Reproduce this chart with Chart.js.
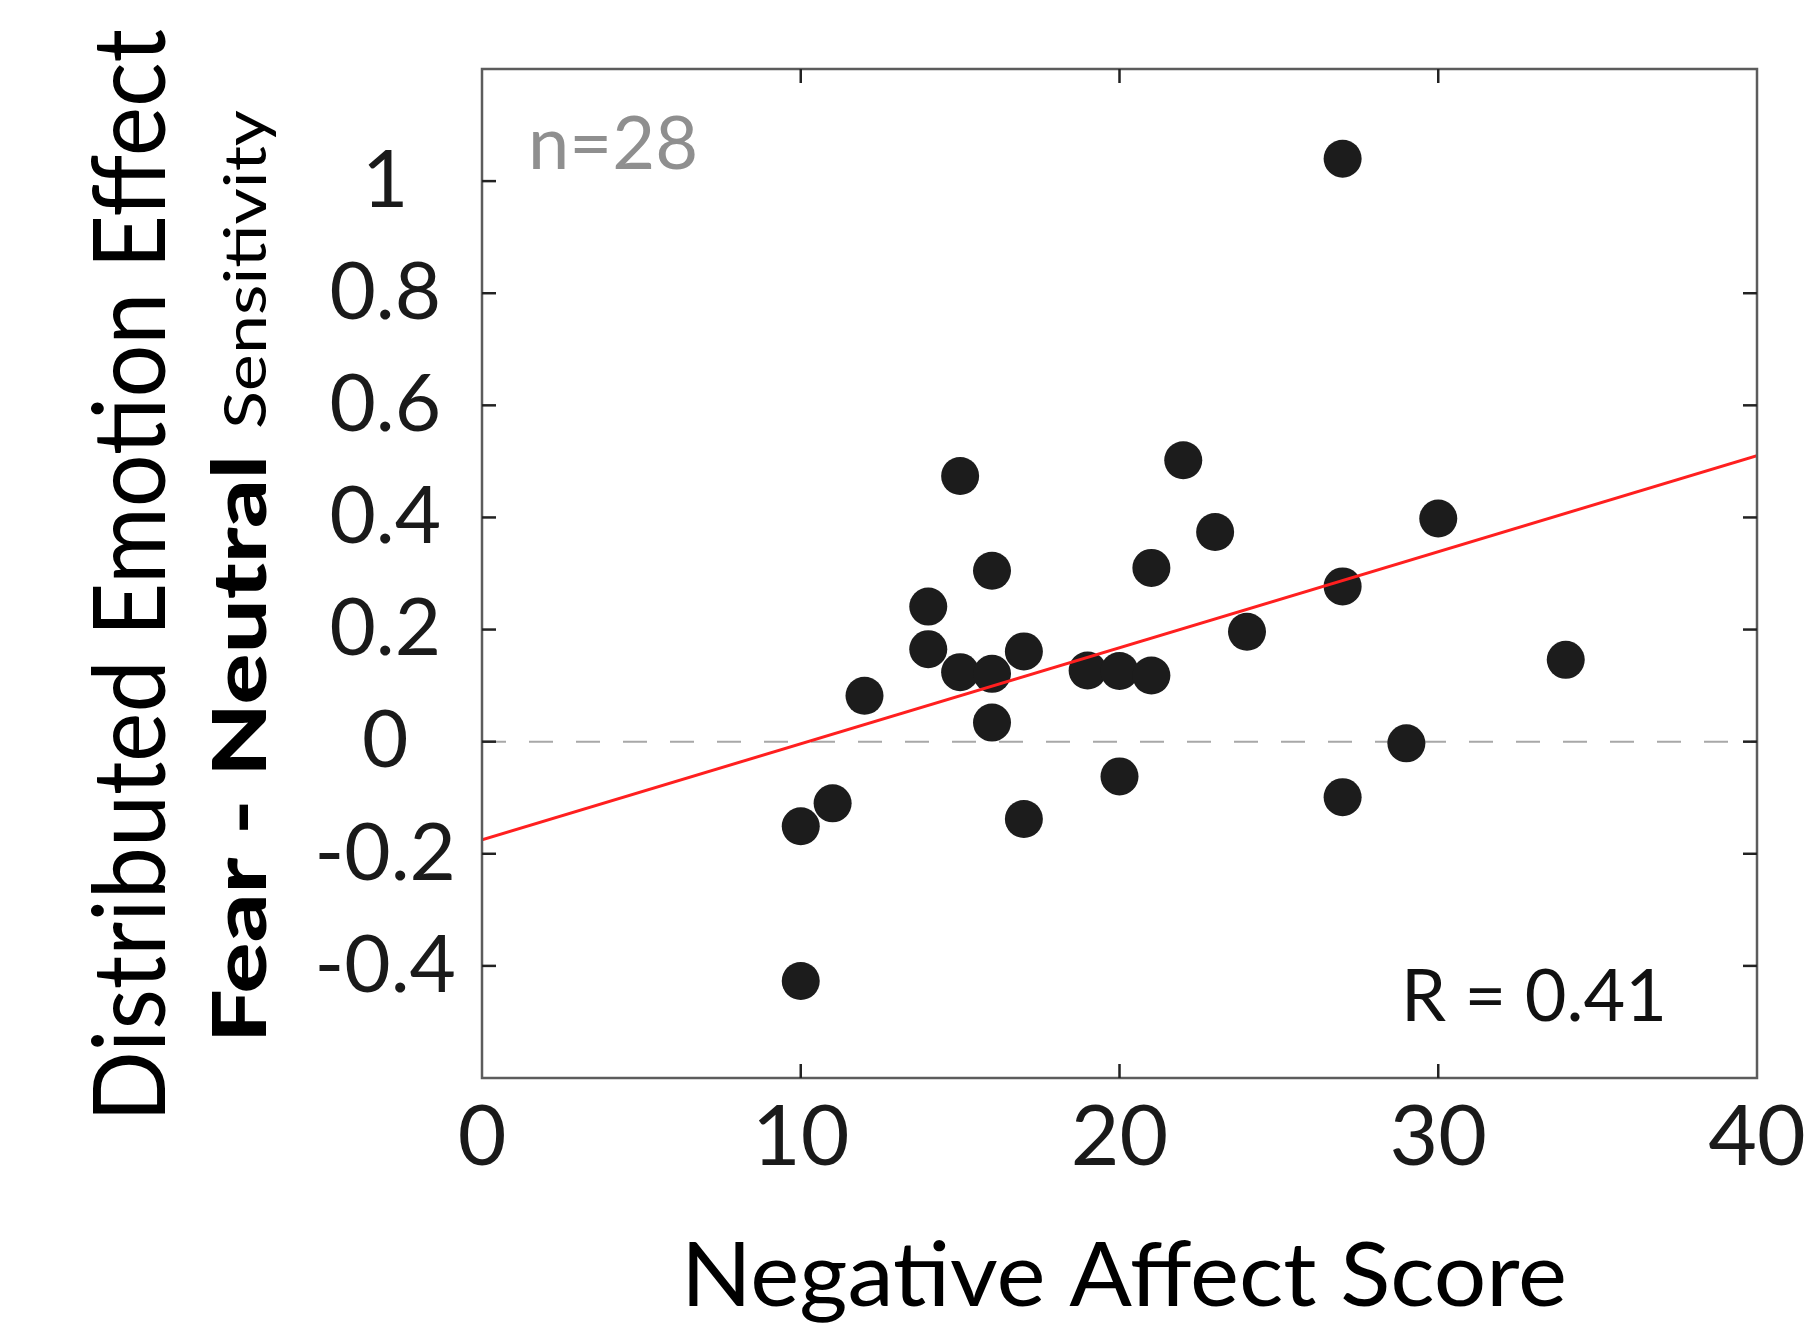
<!DOCTYPE html>
<html>
<head>
<meta charset="utf-8">
<script src="https://cdn.jsdelivr.net/npm/chart.js@4.4.1/dist/chart.umd.min.js"></script>
<style>
html,body{margin:0;padding:0;background:#ffffff;}
#wrap{width:1807px;height:1328px;}
</style>
</head>
<body>
<div id="wrap"><canvas id="c" width="1807" height="1328"></canvas></div>
<script>
// ---- data ----
const negativeAffect = [27, 15, 22, 23, 16, 21, 30, 14, 27, 14, 17, 24, 15, 16, 19, 20, 21, 34, 12, 16, 29, 20, 27, 11, 10, 17, 10];
const sensitivity    = [1.04, 0.474, 0.502, 0.374, 0.305, 0.310, 0.398, 0.241, 0.277, 0.165, 0.161, 0.196, 0.124, 0.121, 0.127, 0.126, 0.118, 0.146, 0.082, 0.034, -0.003, -0.062, -0.099, -0.110, -0.151, -0.138, -0.427];
const fitLineX = [0, 40];
const fitLineY = [-0.175, 0.51];
const zeroLineX = [0, 40];
const zeroLineY = [0, 0];
const xTickValues = [0, 10, 20, 30, 40];
const yTickLabelValues = [-0.4, -0.2, 0, 0.2, 0.4, 0.6, 0.8, 1];
const rightTickMax = 0.8;
const xTitle = 'Negative Affect Score';
const yTitle1 = 'Distributed Emotion Effect';
const yTitle2Bold = 'Fear - Neutral';
const yTitle2Regular = 'Sensitivity';
const nLabel = 'n=28';
const rLabel = 'R = 0.41';

const toPts = (xs, ys) => xs.map((v, i) => ({x: v, y: ys[i]}));

function drawFitted(ctx, text, font, x, y, targetLen, rotate) {
  ctx.font = font;
  const w = ctx.measureText(text).width;
  ctx.save();
  ctx.translate(x, y);
  if (rotate) ctx.rotate(-Math.PI / 2);
  ctx.scale(targetLen / w, 1);
  ctx.textAlign = 'left';
  ctx.textBaseline = 'alphabetic';
  ctx.fillText(text, 0, 0);
  ctx.restore();
}

const framePlugin = {
  id: 'frame',
  afterDatasetsDraw(chart) {
    const {ctx, chartArea: a, scales: {x, y}} = chart;
    ctx.save();
    ctx.strokeStyle = '#5c5c5c';
    ctx.lineWidth = 2.5;
    ctx.strokeRect(a.left, a.top, a.right - a.left, a.bottom - a.top);
    ctx.strokeStyle = '#222222';
    ctx.lineWidth = 2.5;
    const L = 14;
    const seg = (x1, y1, x2, y2) => { ctx.beginPath(); ctx.moveTo(x1, y1); ctx.lineTo(x2, y2); ctx.stroke(); };
    x.ticks.forEach(t => {
      if (t.value <= x.min + 1e-9 || t.value >= x.max - 1e-9) return;
      const px = x.getPixelForValue(t.value);
      seg(px, a.bottom, px, a.bottom - L);
      seg(px, a.top, px, a.top + L);
    });
    y.ticks.forEach(t => {
      if (t.value <= y.min + 1e-9 || t.value >= y.max - 1e-9) return;
      const py = y.getPixelForValue(t.value);
      seg(a.left, py, a.left + L, py);
      if (t.value <= rightTickMax + 1e-9) seg(a.right, py, a.right - L, py);
    });
    ctx.restore();
  },
  afterDraw(chart) {
    const {ctx, chartArea: a} = chart;
    ctx.save();
    ctx.textBaseline = 'alphabetic';
    ctx.textAlign = 'left';
    ctx.fillStyle = '#8f8f8f';
    ctx.font = '74px Lato';
    ctx.fillText(nLabel, a.left + 46, a.top + 100);
    ctx.fillStyle = '#111111';
    ctx.font = '72px Lato';
    ctx.fillText(rLabel, a.right - 356, a.bottom - 57);
    ctx.fillStyle = '#000000';
    // x title
    drawFitted(ctx, xTitle, '90px Lato', 681, 1306, 886, false);
    // y titles
    drawFitted(ctx, yTitle1, '100px Lato', 165, 1122, 1093, true);
    drawFitted(ctx, yTitle2Bold, '900 75px Lato', 266, 1043, 588, true);
    drawFitted(ctx, yTitle2Regular, '58px Lato', 266, 429, 319, true);
    ctx.restore();
  }
};

new Chart(document.getElementById('c'), {
  type: 'scatter',
  data: {
    datasets: [
      {
        type: 'line',
        label: 'fit',
        data: toPts(fitLineX, fitLineY),
        borderColor: '#ff1f1f',
        borderWidth: 3,
        pointRadius: 0,
        fill: false,
        order: 0
      },
      {
        type: 'scatter',
        label: 'subjects',
        data: toPts(negativeAffect, sensitivity),
        backgroundColor: '#1c1c1c',
        borderColor: '#1c1c1c',
        borderWidth: 0,
        pointRadius: 19,
        pointHoverRadius: 19,
        order: 1
      },
      {
        type: 'line',
        label: 'zero',
        data: toPts(zeroLineX, zeroLineY),
        borderColor: '#a8a8a8',
        borderWidth: 2,
        borderDash: [24, 23],
        pointRadius: 0,
        fill: false,
        order: 2
      }
    ]
  },
  options: {
    responsive: false,
    animation: false,
    layout: {padding: {left: 0, right: 50, top: 69, bottom: 0}},
    plugins: {legend: {display: false}, tooltip: {enabled: false}},
    scales: {
      x: {
        type: 'linear',
        min: 0, max: 40,
        afterBuildTicks: s => { s.ticks = xTickValues.map(v => ({value: v})); },
        afterFit: s => { s.height = 250; s.paddingLeft = 0; s.paddingRight = 0; },
        grid: {display: false, drawTicks: false},
        border: {display: false},
        ticks: {
          font: {family: 'Lato', size: 84},
          color: '#1a1a1a',
          padding: 10,
          maxRotation: 0,
          autoSkip: false,
          callback: v => String(v)
        }
      },
      y: {
        type: 'linear',
        min: -0.6, max: 1.2,
        afterBuildTicks: s => {
          const vals = [-0.6].concat(yTickLabelValues, [1.2]);
          s.ticks = vals.map(v => ({value: v}));
        },
        afterFit: s => { s.width = 482; s.paddingTop = 0; s.paddingBottom = 0; },
        grid: {display: false, drawTicks: false},
        border: {display: false},
        ticks: {
          font: {family: 'Lato', size: 80},
          color: '#1a1a1a',
          padding: 26,
          crossAlign: 'center',
          autoSkip: false,
          callback: v => {
            const r = Math.round(v * 10) / 10;
            return yTickLabelValues.some(t => Math.abs(t - r) < 1e-9) ? String(r) : '';
          }
        }
      }
    }
  },
  plugins: [framePlugin]
});
</script>
</body>
</html>
